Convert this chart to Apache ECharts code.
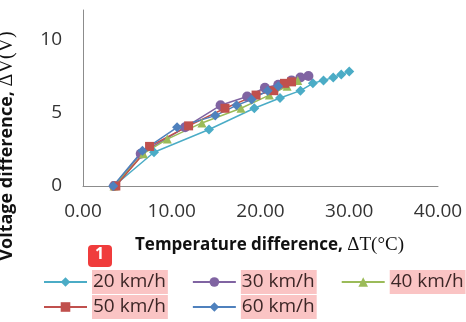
<!DOCTYPE html>
<html>
<head>
<meta charset="utf-8">
<script src="https://cdn.jsdelivr.net/npm/echarts@6/dist/echarts.min.js"></script>
<style>
  html, body { margin: 0; padding: 0; background: #fff; }
  #chart { width: 466px; height: 322px; }
</style>
</head>
<body>
<div id="chart"></div>
<script>
// [ΔT (°C), ΔV (V)] points
const speedNames = ['20 km/h', '30 km/h', '40 km/h', '50 km/h', '60 km/h'];
const speed20 = [[3.5, 0], [8.0, 2.3], [14.2, 3.85], [19.3, 5.3], [22.2, 6.0], [24.5, 6.5], [25.9, 7.0], [27.1, 7.2], [28.2, 7.4], [29.1, 7.6], [30.0, 7.8]];
const speed30 = [[3.5, 0], [6.5, 2.2], [11.5, 4.0], [15.5, 5.5], [18.5, 6.1], [20.5, 6.7], [22.0, 6.9], [23.5, 7.2], [24.5, 7.4], [25.4, 7.5]];
const speed40 = [[3.5, 0], [6.8, 2.2], [9.5, 3.2], [13.4, 4.3], [17.8, 5.3], [21.0, 6.2], [23.0, 6.8], [24.2, 7.2]];
const speed50 = [[3.7, 0], [7.5, 2.7], [11.9, 4.1], [16.0, 5.3], [19.5, 6.2], [21.5, 6.5], [22.7, 7.0], [23.5, 7.1]];
const speed60 = [[3.4, 0], [6.7, 2.4], [10.6, 4.0], [14.9, 4.8], [17.3, 5.5], [19.0, 5.9], [20.8, 6.5], [22.0, 6.8]];
const xTicks = [0, 10, 20, 30, 40];
const yTicks = [0, 5, 10];

const allData = [speed20, speed30, speed40, speed50, speed60];
const colors = ['#4bacc6', '#8064a2', '#9bbb59', '#c0504d', '#4f81bd'];
const symbols = ['diamond', 'circle', 'triangle', 'rect', 'diamond'];
const sizes = [10, 10, 9, 9, 10];

const chart = echarts.init(document.getElementById('chart'), null, { renderer: 'canvas' });

const font = '"Open Sans", "Liberation Sans", sans-serif';
const serif = '"Liberation Serif", "DejaVu Serif", serif';

// two legend rows, three columns like the original
const legendBase = {
  left: 43,
  width: 440,
  padding: 0,
  itemWidth: 43,
  itemHeight: 12,
  itemGap: 24,
  textStyle: {
    fontSize: 19,
    color: '#3c2626',
    backgroundColor: '#fac4c4',
    padding: [3, 2, 2, 1]
  }
};

const option = {
  animation: false,
  textStyle: { fontFamily: font },
  grid: { left: 83, right: 28, top: 10, bottom: 136, outerBoundsMode: 'none' },
  xAxis: {
    type: 'value',
    min: xTicks[0],
    max: xTicks[xTicks.length - 1],
    interval: 10,
    name: '{a|Temperature difference, }{b|ΔT(°C)}',
    nameLocation: 'middle',
    nameGap: 50,
    nameTextStyle: {
      padding: [0, 0, 0, 18],
      rich: {
        a: { fontFamily: font, fontWeight: 'bold', fontSize: 17, color: '#111' },
        b: { fontFamily: serif, fontSize: 19, color: '#111' }
      }
    },
    axisLine: { show: true, lineStyle: { color: '#8c8c8c', width: 1 } },
    axisTick: { show: false },
    splitLine: { show: false },
    axisLabel: {
      fontSize: 19,
      color: '#333',
      margin: 16,
      formatter: v => v.toFixed(2)
    }
  },
  yAxis: {
    type: 'value',
    min: yTicks[0],
    max: 12,
    interval: 5,
    name: '{a|Voltage difference, }{b|ΔV(V)}',
    nameLocation: 'middle',
    nameGap: 66,
    nameTextStyle: {
      padding: [0, 96, 0, 0],
      rich: {
        a: { fontFamily: font, fontWeight: 'bold', fontSize: 18, color: '#111' },
        b: { fontFamily: serif, fontSize: 20, color: '#111' }
      }
    },
    axisLine: { show: true, lineStyle: { color: '#8c8c8c', width: 1 } },
    axisTick: { show: false },
    splitLine: { show: false },
    axisLabel: {
      fontSize: 19,
      color: '#333',
      margin: 21,
      showMaxLabel: false
    }
  },
  legend: [
    Object.assign({}, legendBase, { top: 270, data: speedNames.slice(0, 3) }),
    Object.assign({}, legendBase, { top: 295, data: speedNames.slice(3) })
  ],
  graphic: [
    {
      type: 'rect',
      left: 88,
      top: 245,
      shape: { width: 24, height: 22, r: 4 },
      style: { fill: '#f03c3c' }
    },
    {
      type: 'text',
      left: 95,
      top: 246,
      style: { text: '1', fill: '#fff', font: 'bold 16px ' + font }
    }
  ],
  series: allData.map((d, i) => ({
    name: speedNames[i],
    type: 'line',
    data: d,
    symbol: symbols[i],
    symbolSize: sizes[i],
    showSymbol: true,
    lineStyle: { width: 1.5, color: colors[i] },
    itemStyle: { color: colors[i] }
  }))
};

chart.setOption(option);
</script>
</body>
</html>
